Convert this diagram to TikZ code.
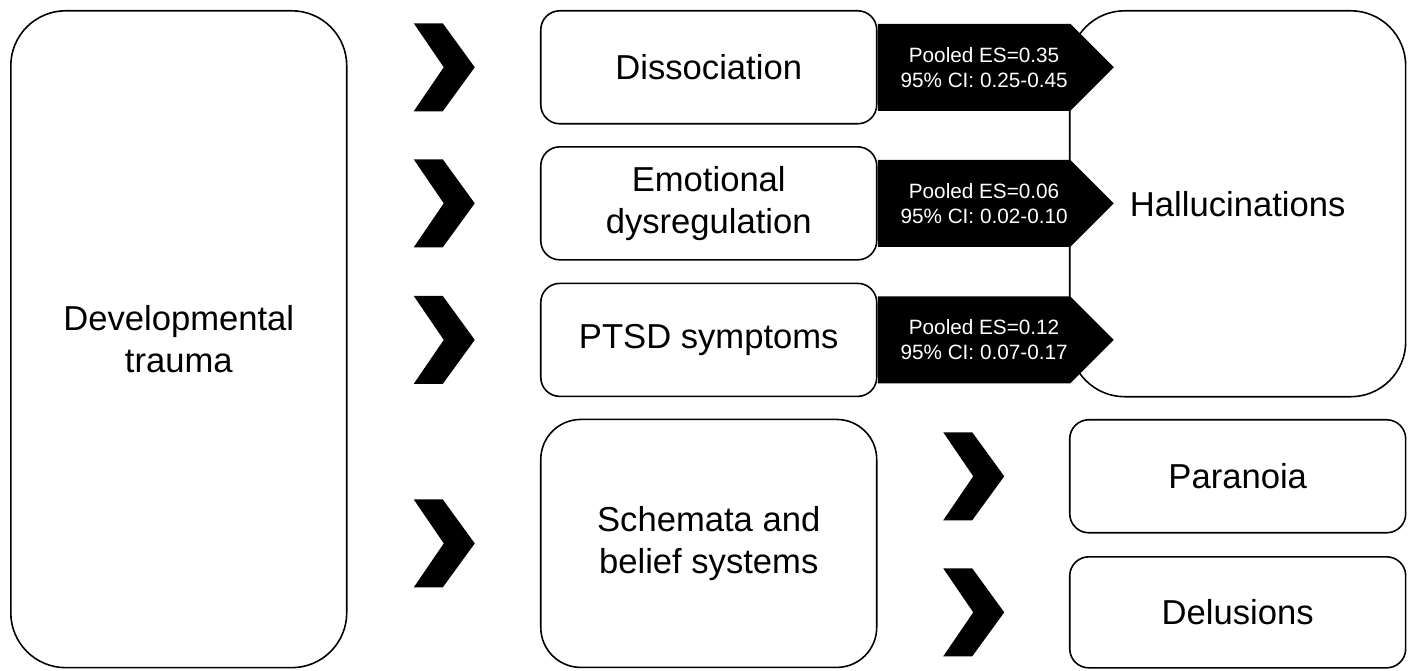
\documentclass[tikz,border=0pt]{standalone}
\usepackage{fontspec}
\setmainfont{Liberation Sans}
\usepackage{tikz}
\usetikzlibrary{shapes, arrows.meta, positioning, calc}
\tikzset{
    bigbox/.style={rectangle, draw, line width=0.9pt, rounded corners=1.1cm, align=center, minimum width=6.72cm, font=\fontsize{19.7}{24}\selectfont},
    midbox/.style={rectangle, draw, line width=0.9pt, rounded corners=0.38cm, align=center, minimum width=6.72cm, minimum height=2.26cm, font=\fontsize{19.7}{24}\selectfont},
    esarrow/.style={signal, signal to=east, fill=black, inner sep=0pt, minimum width=4.72cm, minimum height=1.74cm},
    estext/.style={text=white, align=center, xshift=0.2cm, font=\fontsize{11.8}{14.2}\selectfont},
    chevron/.pic={\fill (-30,-44) -- (-1,-44) -- (31,0) -- (-1,44) -- (-30,44) -- (0,0) -- cycle;}
}

\begin{document}
\begin{tikzpicture}[x=0.02cm, y=-0.02cm]
    \useasboundingbox (0,0) rectangle (1415,671);

    % Nodes
    \node (dev) [bigbox, minimum height=13.14cm, anchor=north west] at (10,10) {Developmental\\trauma};
    \node (diss) [midbox, right=3.85cm of dev.north east, anchor=north west] {Dissociation};
    \node (emo) [midbox, below=0.43cm of diss] {Emotional\\dysregulation};
    \node (ptsd) [midbox, below=0.44cm of emo] {PTSD symptoms};
    \node (schema) [midbox, below=0.43cm of ptsd, minimum height=4.96cm, rounded corners=0.8cm] {Schemata and\\belief systems};
    \node (hall) [bigbox, right=3.83cm of diss.north east, anchor=north west, minimum height=7.72cm] {Hallucinations};
    \node (para) [midbox, below=0.43cm of hall] {Paranoia};
    \node (delu) [midbox, below=0.45cm of para, minimum height=2.22cm] {Delusions};

    % Chevrons
    \foreach \row in {diss, emo, ptsd, schema}
        \pic at ($(dev.east |- \row.west)!0.5!(\row.west)$) {chevron};
    \foreach \row in {para, delu}
        \pic at ($(schema.east |- \row.west)!0.5!(\row.west)$) {chevron};

    % Effect sizes
    \node (es1) [esarrow, anchor=west, label={[estext]center:Pooled ES=0.35\\95\% CI: 0.25-0.45}] at (diss.east) {};
    \node (es2) [esarrow, anchor=west, label={[estext]center:Pooled ES=0.06\\95\% CI: 0.02-0.10}] at (emo.east) {};
    \node (es3) [esarrow, anchor=west, label={[estext]center:Pooled ES=0.12\\95\% CI: 0.07-0.17}] at (ptsd.east) {};

\end{tikzpicture}
\end{document}
